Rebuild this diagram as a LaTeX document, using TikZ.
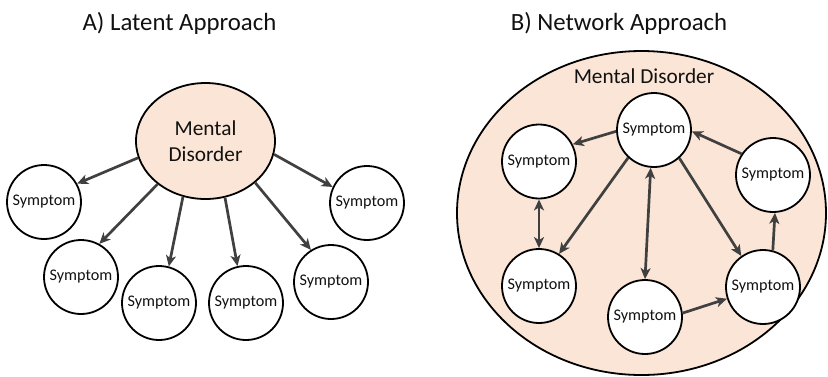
\documentclass[tikz,border=0pt]{standalone}
\usepackage{fontspec}
\setmainfont{Carlito}
\usetikzlibrary{arrows.meta,shapes.geometric}
\definecolor{peach}{HTML}{FBE5D6}
\definecolor{arrowgray}{HTML}{404040}
\definecolor{txt}{HTML}{111111}
\begin{document}
\begin{tikzpicture}[x=1pt,y=-1pt,
  symp/.style={circle,draw=black,line width=1.8pt,fill=white,minimum size=74pt,inner sep=0pt,
    font=\fontsize{16.2}{18}\selectfont,text=txt},
  title/.style={font=\fontsize{24.8}{28}\selectfont,text=txt},
  tip/.tip={Stealth[length=11pt,width=10pt,inset=3pt]},
  conn/.style={draw=arrowgray,line width=2.7pt,-tip},
  conn2/.style={draw=arrowgray,line width=2.7pt,tip-tip}]
\useasboundingbox (0,0) rectangle (828,376);
\clip (0,0) rectangle (828,376);

% ---------- A) Latent Approach ----------
\node[title] (tA) at (179.5,23) {A) Latent Approach};
\node[ellipse,draw=black,line width=1.8pt,fill=peach,minimum width=139pt,minimum height=116pt,
  inner sep=0pt,align=center,font=\fontsize{21.3}{26}\selectfont,text=txt] (md) at (205.5,141) {Mental\\Disorder};
\node[symp] (s1) at (44,202) {Symptom};
\node[symp] (s2) at (81,277) {Symptom};
\node[symp] (s3) at (159,303) {Symptom};
\node[symp] (s4) at (246,303) {Symptom};
\node[symp] (s5) at (331,282) {Symptom};
\node[symp] (s6) at (367,203) {Symptom};
\draw[conn] (md.194) -- (s1.29);
\draw[conn] (md.222) -- (s2.61);
\draw[conn] (md.248) -- (s3.75);
\draw[conn] (md.289) -- (s4.103);
\draw[conn] (md.320) -- (s5.122);
\draw[conn] (md.349) -- (s6.155);

% ---------- B) Network Approach ----------
\node[title] (tB) at (619,23) {B) Network Approach};
\node[ellipse,draw=black,line width=1.8pt,fill=peach,minimum width=369pt,minimum height=324pt,inner sep=0pt] (big) at (641.5,213) {};
\node[font=\fontsize{21.3}{26}\selectfont,text=txt] (bl) at (644,76) {Mental Disorder};
\node[symp] (nt) at (654,130) {Symptom};
\node[symp] (nul) at (539,161.5) {Symptom};
\node[symp] (nr) at (773,175) {Symptom};
\node[symp] (nll) at (539,286) {Symptom};
\node[symp] (nb) at (645,317) {Symptom};
\node[symp] (nlr) at (763,287) {Symptom};
\draw[conn] (nt.182) -- (nul.27);
\draw[conn] (nt.227) -- (nll.58);
\draw[conn2] (nt.265) -- (nb.90);
\draw[conn] (nt.312) -- (nlr.125);
\draw[conn] (nr.146) -- (nt.358);
\draw[conn2] (nul.270) -- (nll.90);
\draw[conn] (nb.6) -- (nlr.198);
\draw[conn] (nlr.75) -- (nr.273);
\end{tikzpicture}
\end{document}
